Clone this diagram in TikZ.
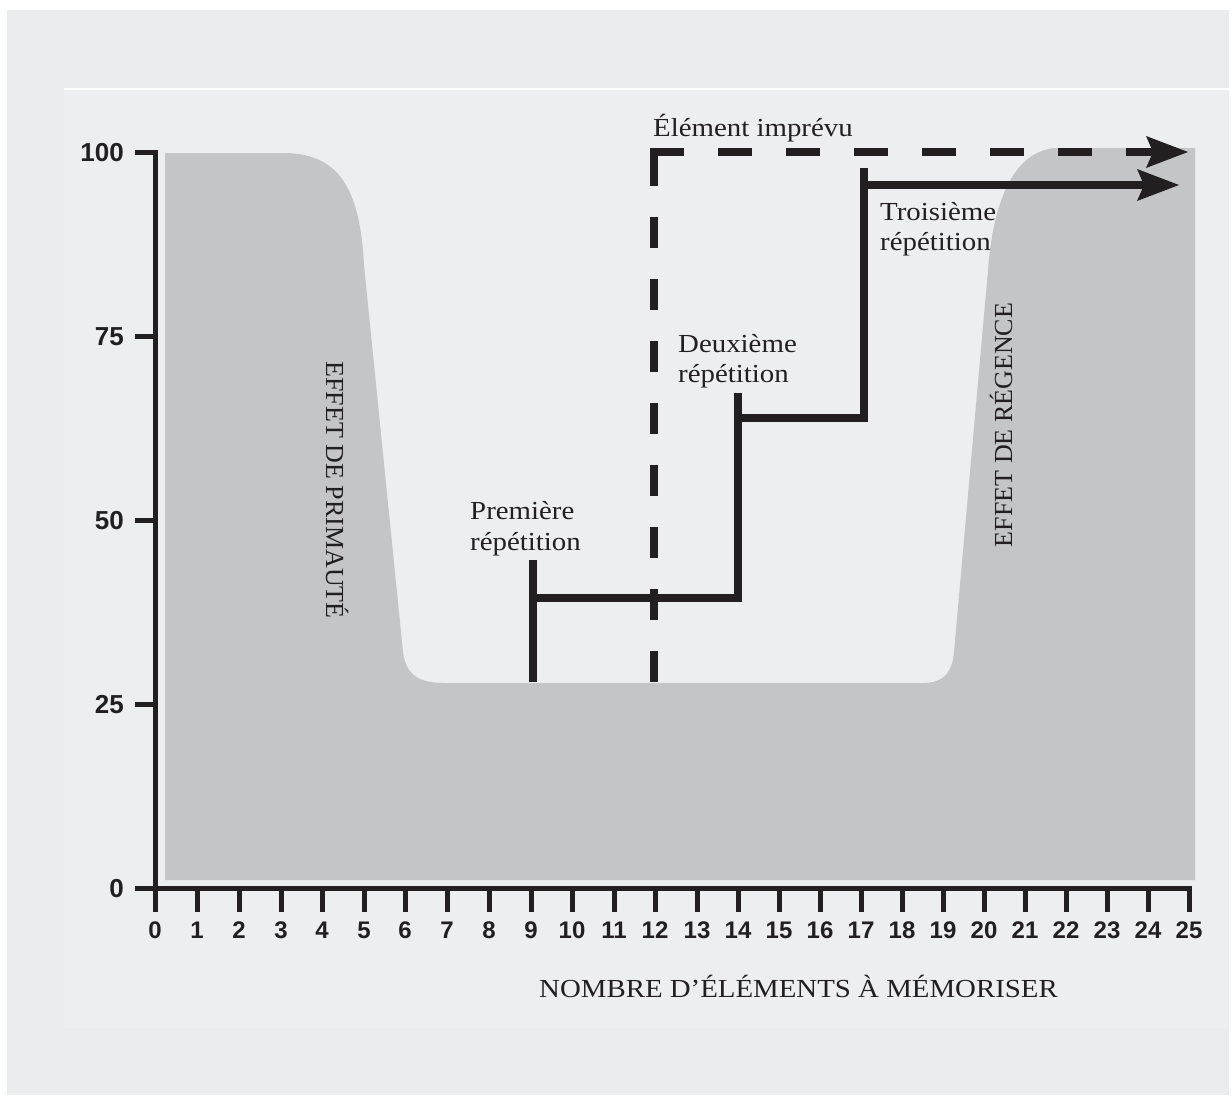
\documentclass[tikz,border=0pt]{standalone}
\usepackage{fontspec}
\setmainfont{Liberation Serif}[FakeStretch=1.11]
\newfontfamily\rotfont{Liberation Serif}
\newfontfamily\numfont{Liberation Sans}
\usetikzlibrary{arrows.meta}
\definecolor{ink}{HTML}{231F20}
\definecolor{outerbg}{HTML}{EBECEE}
\definecolor{panelbg}{HTML}{EDEEF0}
\definecolor{area}{HTML}{C4C5C7}
\begin{document}
\begin{tikzpicture}[x=1pt,y=-1pt,
  axisline/.style={line width=5pt, draw=ink},
  stepline/.style={line width=8pt, draw=ink},
  ticklab/.style={font=\numfont\bfseries\fontsize{24}{24}\selectfont, text=ink, inner sep=0pt, anchor=base},
  ylab/.style={font=\numfont\bfseries\fontsize{26}{26}\selectfont, text=ink, inner sep=0pt, anchor=base east},
  lab/.style={font=\fontsize{26}{31}\selectfont, text=ink, inner sep=0pt, anchor=base west},
  rotlab/.style={font=\rotfont\fontsize{26}{31}\selectfont, text=ink, inner sep=0pt, anchor=base},
  headed/.style={-{Stealth[length=42pt,width=32pt,inset=7pt,line width=0pt]}}
]
\useasboundingbox (0,0) rectangle (1231,1105);
\fill[white] (0,0) rectangle (1231,1105);
\fill[outerbg] (7,10) rectangle (1229,1095);
\fill[panelbg] (64,89) rectangle (1229,1028);
\draw[white, line width=2pt] (64,89) -- (1229,89);

% shaded area (serial position curve)
\fill[area] (165,880) -- (165,153) -- (283,153)
  .. controls (340,153) and (360,190) .. (364,265)
  -- (403,652) .. controls (406,676) and (420,683) .. (445,683)
  -- (922,683) .. controls (945,683) and (952,672) .. (954,652)
  -- (988,270) .. controls (992,215) and (1008,152) .. (1055,148)
  -- (1195,148) -- (1195,880) -- cycle;

% axes
\draw[axisline] (135,152) -- (155,152) -- (155,912);
\draw[axisline] (135,888) -- (1189,888) -- (1189,912);
\foreach \y in {336,520,704} \draw[axisline] (135,\y) -- (155,\y);
\foreach \x in {197,239,281,322,364,405,447,489,531,572,614,655,697,738,779,820,861,902,943,984,1025,1066,1107,1148}
  \draw[axisline] (\x,888) -- (\x,912);

% tick labels
\foreach \i/\x in {0/155,1/197,2/239,3/281,4/322,5/364,6/405,7/447,8/489,9/531,10/572,11/614,12/655,13/697,14/738,15/779,16/820,17/861,18/902,19/943,20/984,21/1025,22/1066,23/1107,24/1148,25/1189}
  \node[ticklab] (xl\i) at (\x,938) {\i};
\node[ylab] (yl100) at (124,161) {100};
\node[ylab] (yl75) at (124,345) {75};
\node[ylab] (yl50) at (124,529) {50};
\node[ylab] (yl25) at (124,713) {25};
\node[ylab] (yl0) at (124,897) {0};

% unexpected element (dashed)
\draw[stepline, dash pattern=on 31pt off 31pt] (654,682) -- (654,148);
\draw[stepline, dash pattern=on 34pt off 34pt, headed] (650,152) -- (1188,152);

% repetitions (solid steps)
\draw[stepline] (533,682) -- (533,560);
\draw[stepline] (533,598) -- (738,598) -- (738,393);
\draw[stepline] (738,418) -- (864,418) -- (864,168);
\draw[stepline, headed] (864,185) -- (1179,185);

% labels
\node[lab] (imprevu) at (653,136) {Élément imprévu};
\node[lab] (prem1) at (470,519) {Première};
\node[lab] (prem2) at (470,550) {répétition};
\node[lab] (deux1) at (678,352) {Deuxième};
\node[lab] (deux2) at (678,382) {répétition};
\node[lab] (trois1) at (880,220) {Troisième};
\node[lab] (trois2) at (880,250) {répétition};
\node[lab] (xtitle) at (539,997) {NOMBRE D’ÉLÉMENTS À MÉMORISER};
\node[rotlab, rotate=-90] (primaute) at (326,490) {EFFET DE PRIMAUTÉ};
\node[rotlab, rotate=90] (regence) at (1012,425) {EFFET DE RÉGENCE};
\end{tikzpicture}
\end{document}
